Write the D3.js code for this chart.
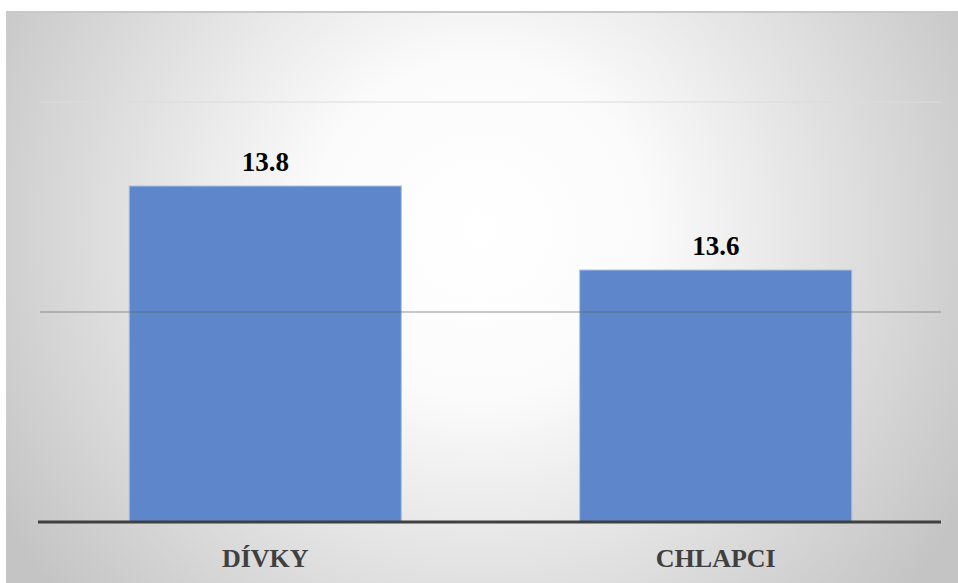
<!DOCTYPE html>
<html>
<head>
<meta charset="utf-8">
<script src="https://cdn.jsdelivr.net/npm/d3@7"></script>
<style>
  body { margin: 0; background: #fff; }
  svg { display: block; }
  text { font-family: "Liberation Serif", "DejaVu Serif", serif; font-weight: bold; }
</style>
</head>
<body>
<div id="container"></div>
<script>
/* CONSTANTS AND GLOBALS */
const width = 958;
const height = 583;

const categories = ["DÍVKY", "CHLAPCI"];
const values = [13.8, 13.6];
const yTicks = [13, 13.5, 14];

const svg = d3.select("#container").append("svg")
  .attr("width", width)
  .attr("height", height);

// background gradient
const defs = svg.append("defs");
const grad = defs.append("radialGradient")
  .attr("id", "bg")
  .attr("gradientUnits", "userSpaceOnUse")
  .attr("cx", 480).attr("cy", 230).attr("r", 560);
grad.append("stop").attr("offset", "0%").attr("stop-color", "#ffffff");
grad.append("stop").attr("offset", "30%").attr("stop-color", "#fbfbfb");
grad.append("stop").attr("offset", "100%").attr("stop-color", "#c4c4c4");

svg.append("rect")
  .attr("x", 6).attr("y", 12)
  .attr("width", width - 6).attr("height", height - 12)
  .attr("fill", "url(#bg)");
svg.append("line")
  .attr("x1", 6).attr("x2", width)
  .attr("y1", 12).attr("y2", 12)
  .attr("stroke", "#c8c8c8").attr("stroke-width", 2);

/* SCALES */
const xScale = d3.scaleBand()
  .domain(categories)
  .range([40, 941])
  .paddingInner(0.396)
  .paddingOuter(0.198);

const yScale = d3.scaleLinear()
  .domain([13, 14])
  .range([522, 102]);

// top gridline (behind bars)
svg.append("line")
  .attr("x1", 40).attr("x2", 941)
  .attr("y1", yScale(yTicks[2])).attr("y2", yScale(yTicks[2]))
  .attr("stroke", "#dcdcdc").attr("stroke-width", 1.2);

// bars
svg.selectAll("rect.bar")
  .data(values)
  .join("rect")
  .attr("class", "bar")
  .attr("x", (d, i) => xScale(categories[i]))
  .attr("y", d => yScale(d))
  .attr("width", xScale.bandwidth())
  .attr("height", d => yScale(13) - yScale(d))
  .attr("fill", "#5e87cb")
  .attr("stroke", "#a9c1e8")
  .attr("stroke-width", 1);

// middle gridline (drawn over bars)
svg.append("line")
  .attr("x1", 40).attr("x2", 941)
  .attr("y1", yScale(yTicks[1])).attr("y2", yScale(yTicks[1]))
  .attr("stroke", "#6a6a6a").attr("stroke-opacity", 0.7).attr("stroke-width", 1.2);

// baseline
svg.append("line")
  .attr("x1", 38).attr("x2", 941)
  .attr("y1", yScale(yTicks[0])).attr("y2", yScale(yTicks[0]))
  .attr("stroke", "#404040").attr("stroke-width", 3);

// value labels
svg.selectAll("text.val")
  .data(values)
  .join("text")
  .attr("class", "val")
  .attr("x", (d, i) => xScale(categories[i]) + xScale.bandwidth() / 2)
  .attr("y", d => yScale(d) - 15)
  .attr("text-anchor", "middle")
  .style("font-size", "27px")
  .attr("fill", "#000")
  .text(d => d.toFixed(1));

// category labels
svg.selectAll("text.cat")
  .data(categories)
  .join("text")
  .attr("class", "cat")
  .attr("x", d => xScale(d) + xScale.bandwidth() / 2)
  .attr("y", 567)
  .attr("text-anchor", "middle")
  .style("font-size", "26px")
  .attr("fill", "#404040")
  .text(d => d);
</script>
</body>
</html>
